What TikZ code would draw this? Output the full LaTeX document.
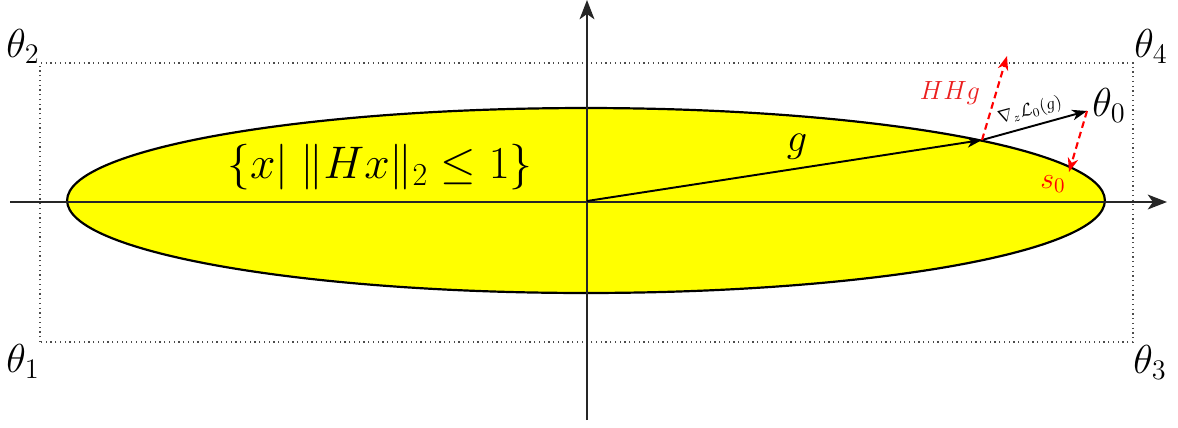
\documentclass[tikz,border=0pt]{standalone}
\usepackage{fix-cm}
\usepackage{amsmath,amssymb}
\usetikzlibrary{arrows.meta}
\definecolor{ellyellow}{RGB}{255,255,0}
\definecolor{hhred}{RGB}{235,30,30}
\tikzset{
  axisline/.style={line width=0.75pt, draw=black!85, -{Stealth[length=11pt,width=8.5pt,inset=3pt]}},
  vecarrow/.style={line width=1.1pt, -{Stealth[length=8.5pt,width=6pt,inset=2.5pt]}},
  redarrow/.style={line width=1.2pt, draw=red, dash pattern=on 3.8pt off 2.4pt, -{Stealth[length=8pt,width=6pt,inset=2.5pt]}},
  boxline/.style={line width=0.7pt, draw=black!70, dotted},
  biglabel/.style={font=\fontsize{23}{27}\selectfont, inner sep=0pt},
  setlabel/.style={font=\fontsize{26}{30}\selectfont, inner sep=0pt},
  redlabel/.style={font=\fontsize{15}{18}\selectfont, text=hhred, inner sep=0pt},
  slabel/.style={font=\fontsize{17}{20}\selectfont, text=red, inner sep=0pt},
  gradlabel/.style={font=\fontsize{10}{12}\selectfont, inner sep=0pt}
}
\begin{document}
\begin{tikzpicture}[x=0.02cm,y=-0.02cm]
\useasboundingbox (0,0) rectangle (1178,427);
% ellipse
\draw[fill=ellyellow, line width=1.25pt] (586,200.5) ellipse [x radius=10.38cm, y radius=1.85cm];
% dotted box
\coordinate (c2) at (40,63);
\coordinate (c4) at (1133,63);
\coordinate (c3) at (1133,342);
\coordinate (c1) at (40,342);
\draw[boxline] (c1) -- (c2) -- (c4) -- (c3) -- cycle;
% axes
\coordinate (xl) at (10,202);
\coordinate (xr) at (1167,202);
\coordinate (yb) at (587,420);
\coordinate (yt) at (587,0);
\draw[axisline] (xl) -- (xr);
\draw[axisline] (yb) -- (yt);
% points
\coordinate (O) at (587,201);
\coordinate (P) at (982,140);
\coordinate (T0) at (1087,111);
\coordinate (HH) at (1007,56);
\coordinate (S) at (1069,172);
% vectors
\draw[vecarrow] (O) -- (P);
\draw[vecarrow] (P) -- (T0);
\draw[redarrow] (P) -- (HH);
\draw[redarrow] (T0) -- (S);
% labels
\node[biglabel] (l2) at (23,46) {$\theta_2$};
\node[biglabel] (l1) at (23,361) {$\theta_1$};
\node[biglabel] (l3) at (1150,362) {$\theta_3$};
\node[biglabel] (l4) at (1151,46) {$\theta_4$};
\node[biglabel] (l0) at (1109,105) {$\theta_0$};
\node[biglabel] (lg) at (797,147) {$g$};
\node[setlabel] (lset) at (380,167) {$\{x|\;\|Hx\|_2\leq 1\}$};
\node[redlabel] (lhh) at (950,93) {$HHg$};
\node[slabel] (ls) at (1053,184) {$s_0$};
\node[gradlabel, rotate=15] (lgrad) at (1030,111) {$\nabla_z\mathcal{L}_0(g)$};
\end{tikzpicture}
\end{document}
